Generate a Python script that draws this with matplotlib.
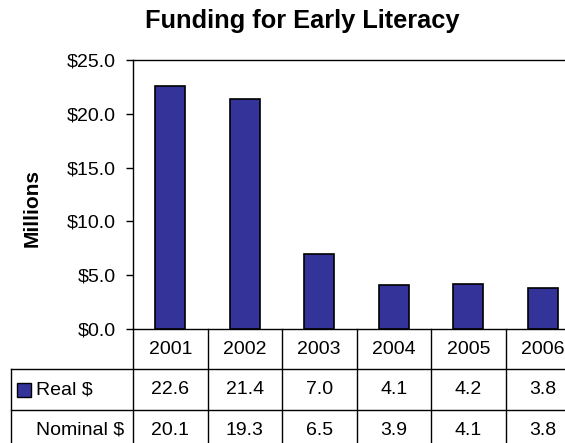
import matplotlib
matplotlib.use("Agg")
from matplotlib import pyplot as plt
from matplotlib.transforms import blended_transform_factory
from matplotlib.patches import Rectangle

plt.rcParams['font.family'] = ['Liberation Sans', 'DejaVu Sans']

# data
years = ['2001', '2002', '2003', '2004', '2005', '2006']
real = [22.6, 21.4, 7.0, 4.1, 4.2, 3.8]
nominal = [20.1, 19.3, 6.5, 3.9, 4.1, 3.8]
yticks = [0, 5, 10, 15, 20, 25]

W, H = 565, 443
FS = 14
fig = plt.figure(figsize=(W / 100, H / 100), dpi=100)
# axes runs past the right edge: the last column is cut off like in the source
ax = fig.add_axes([133 / W, (H - 329) / H, (580 - 133) / W, (329 - 60) / H])

x = list(range(len(years)))
ax.bar(x, real, width=0.40, color='#333399', edgecolor='black', linewidth=1.2, zorder=3)
ax.set_xlim(-0.5, len(years) - 0.5)
ax.set_ylim(0, 25)
ax.set_yticks(yticks)
ax.set_yticklabels(['${:.1f}'.format(v) for v in yticks], fontsize=FS)
ax.set_xticks([])
ax.tick_params(axis='y', length=5, width=1, direction='out', pad=7.5)
for s in ax.spines.values():
    s.set_linewidth(1)

fig.text(302 / W, 1 - 21 / H, 'Funding for Early Literacy', ha='center', va='center',
         fontsize=18.3, fontweight='bold')
fig.text(32 / W, 1 - 208 / H, 'Millions', ha='center', va='center', rotation=90,
         fontsize=15, fontweight='bold')

# data table below the plot
tr = blended_transform_factory(ax.transData, ax.transAxes)
px = 1 / 269  # one pixel in axes fraction
row_edges = [0, -40 * px, -81 * px, -122 * px]
label_left = -0.5 + (11 - 133) / 74.5
line_kw = dict(color='black', linewidth=1, transform=tr, clip_on=False)

for i in range(len(years) + 1):
    ax.plot([i - 0.5, i - 0.5], [0, row_edges[-1]], **line_kw)
ax.plot([label_left, len(years) - 0.5], [row_edges[1]] * 2, **line_kw)
ax.plot([label_left, len(years) - 0.5], [row_edges[2]] * 2, **line_kw)
ax.plot([label_left, label_left], [row_edges[1], row_edges[3]], **line_kw)

def mid(k):
    return (row_edges[k] + row_edges[k + 1]) / 2

for i, yr in enumerate(years):
    ax.text(i, mid(0), yr, ha='center', va='center', fontsize=FS, transform=tr, clip_on=False)
    ax.text(i, mid(1), '{:.1f}'.format(real[i]), ha='center', va='center', fontsize=FS,
            transform=tr, clip_on=False)
    ax.text(i, mid(2), '{:.1f}'.format(nominal[i]), ha='center', va='center', fontsize=FS,
            transform=tr, clip_on=False)

txt_x = -0.5 + (36 - 133) / 74.5
ax.text(txt_x, mid(1), 'Real $', ha='left', va='center', fontsize=FS, transform=tr, clip_on=False)
ax.text(txt_x, mid(2), 'Nominal $', ha='left', va='center', fontsize=FS, transform=tr, clip_on=False)
key_x = -0.5 + (17 - 133) / 74.5
ax.add_patch(Rectangle((key_x, mid(1) - 7 * px), 14 / 74.5, 14 * px, facecolor='#333399',
                       edgecolor='black', linewidth=1, transform=tr, clip_on=False))

fig.savefig('out.png', dpi=100)
